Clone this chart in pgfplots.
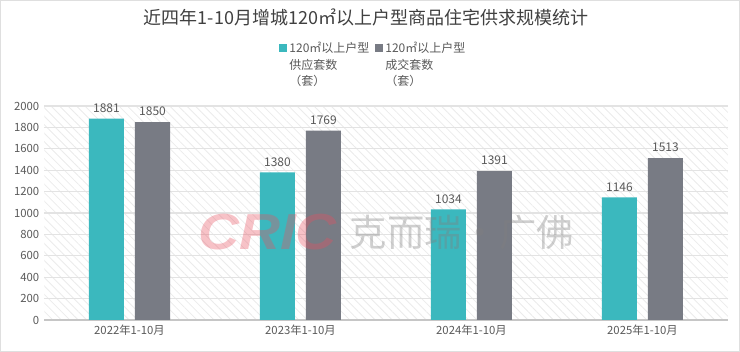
\documentclass[border=0pt]{standalone}
\usepackage{fontspec}
\setmainfont{Noto Sans CJK SC}
\newfontfamily\latinfont{Liberation Sans}
\usepackage{pgfplots}
\pgfplotsset{compat=1.18}
\usetikzlibrary{patterns.meta}
\definecolor{teal1}{HTML}{3BB8BE}
\definecolor{gray1}{HTML}{787B84}
\definecolor{txt}{HTML}{595959}
\begin{document}
\begin{tikzpicture}[x=1pt,y=1pt]
\draw[gray!25, line width=1pt] (0.5,0.5) rectangle (554.5,263.5);
\node[font=\fontsize{13.5}{16}\selectfont, text=black!75] at (274.5,251) {近四年1-10月增城120㎡以上户型商品住宅供求规模统计};
\begin{axis}[
  at={(33pt,24pt)}, anchor=south west, scale only axis,
  width=513pt, height=160.5pt,
  ybar=8.25pt, bar width=26.25pt,
  ymin=0, ymax=2000, ytick={0,200,...,2000},
  xmin=-0.5, xmax=3.5, xtick={0,1,2,3},
  xticklabels={2022年1-10月,2023年1-10月,2024年1-10月,2025年1-10月},
  /pgf/number format/assume math mode=true,
  /pgf/number format/1000 sep={},
  axis x line*=bottom, axis y line*=left,
  x axis line style={draw=gray!45, line width=0.8pt, -},
  y axis line style={draw=none},
  major tick length=0pt,
  ymajorgrids, grid style={gray!22, line width=0.8pt},
  axis background/.style={pattern={Lines[angle=-45,distance=4.5pt,line width=0.6pt]}, pattern color=gray!16},
  ticklabel style={font=\fontsize{8.5}{10}\selectfont, text=txt},
  nodes near coords,
  every node near coord/.append style={font=\fontsize{9}{10}\selectfont, text=txt, yshift=1pt},
  legend style={draw=none, fill=none, at={(0.337,1.325)}, anchor=north west,
    font=\fontsize{9}{12.5}\selectfont, text=txt,
    /tikz/every even column/.append style={column sep=2pt},
    cells={align=left}},
  legend columns=2, legend cell align=left,
  legend image code/.code={\fill[#1] (0pt,9.5pt) rectangle (6pt,15.5pt);},
]
\addplot[fill=teal1, draw=none] coordinates {(0,1881) (1,1380) (2,1034) (3,1146)};
\addlegendentry{120㎡以上户型\\供应套数\\（套）}
\addplot[fill=gray1, draw=none] coordinates {(0,1850) (1,1769) (2,1391) (3,1513)};
\addlegendentry{120㎡以上户型\\成交套数\\（套）}
\node[anchor=east, font=\latinfont\bfseries\itshape\fontsize{38}{40}\selectfont, text={rgb,255:red,232;green,80;blue,95}, opacity=0.35, xscale=1.12] at (rel axis cs:0.436,0.41) {CRIC};
\node[anchor=west, font=\fontsize{28}{30}\selectfont, text=gray, opacity=0.38] at (rel axis cs:0.44,0.41) {克而瑞·广佛};
\end{axis}
\end{tikzpicture}
\end{document}
